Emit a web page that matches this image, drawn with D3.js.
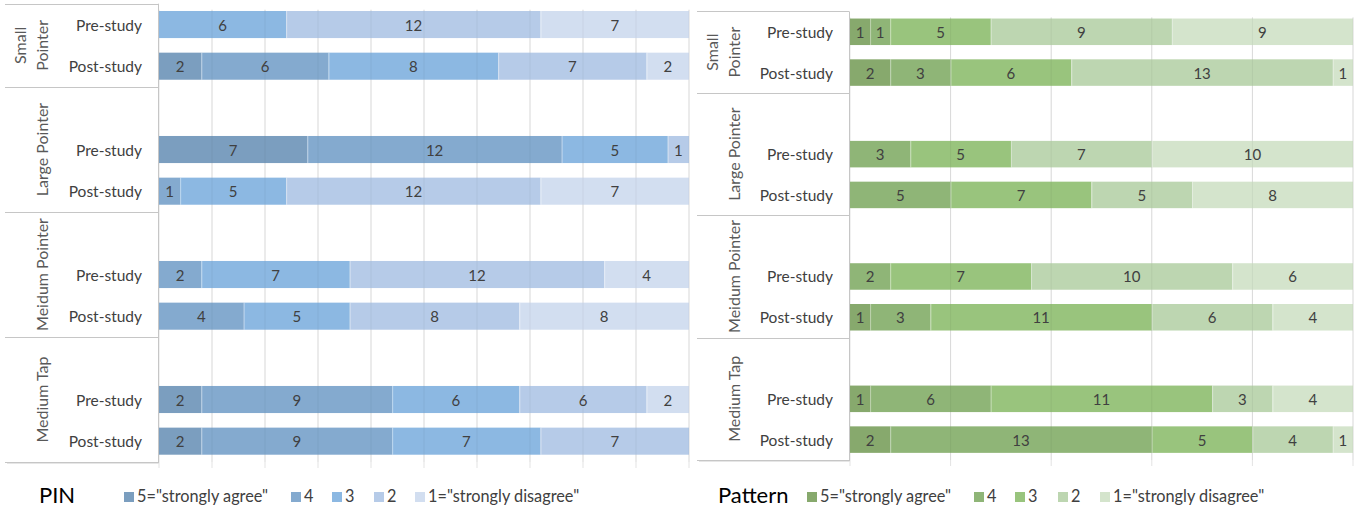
<!DOCTYPE html>
<html>
<head>
<meta charset="utf-8">
<script src="https://cdn.jsdelivr.net/npm/d3@7"></script>
<style>
  body { margin: 0; background: #fff; }
  svg { font-family: Lato, "Open Sans", sans-serif; }
</style>
</head>
<body>
<svg id="chart" width="1359" height="508"></svg>
<script>
const groups = ['Small Pointer', 'Large Pointer', 'Meidum Pointer', 'Medium Tap']
const rowLabels = ['Pre-study', 'Post-study']
const levels = ['5="strongly agree"', '4', '3', '2', '1="strongly disagree"']

// one row per bar, values for 5,4,3,2,1
const pinValues = [
    [0, 0, 6, 12, 7], [2, 6, 8, 7, 2],
    [7, 12, 5, 1, 0], [0, 1, 5, 12, 7],
    [0, 2, 7, 12, 4], [0, 4, 5, 8, 8],
    [2, 9, 6, 6, 2], [2, 9, 7, 7, 0]
]
const patternValues = [
    [1, 1, 5, 9, 9], [2, 3, 6, 13, 1],
    [0, 3, 5, 7, 10], [0, 5, 7, 5, 8],
    [0, 2, 7, 10, 6], [1, 3, 11, 6, 4],
    [1, 6, 11, 3, 4], [2, 13, 5, 4, 1]
]
const pinColors = ['#7b9ebf', '#84aacf', '#8cb8e2', '#b6cbe8', '#d2def0']
const patternColors = ['#87a96d', '#8fb577', '#99c47d', '#bdd6b1', '#d4e4cc']

const svg = d3.select('#chart')

const createChart = (cfg) => {
    // slot keys: a blank slot opens every group but the first
    const slots = []
    groups.forEach((g, gi) => {
        if (gi > 0) slots.push(`blank-${gi}`)
        rowLabels.forEach((r, ri) => slots.push(`${gi}-${ri}`))
    })
    const y = d3.scaleBand().domain(slots).range([cfg.top, cfg.bottom])
        .paddingInner(0.35).paddingOuter(0.175)
    const step = y.step()
    const x = d3.scaleLinear().domain([0, 1]).range([cfg.left, cfg.right])

    const rows = []
    cfg.values.forEach((vals, i) => {
        const total = d3.sum(vals)
        let acc = 0
        vals.forEach((v, li) => {
            if (v > 0) rows.push({ key: `${Math.floor(i / 2)}-${i % 2}`, level: li, v, x0: acc / total, x1: (acc + v) / total })
            acc += v
        })
    })

    const g = svg.append('g')

    // gridlines + ticks below plot
    const ticks = d3.range(0, 1.0001, cfg.tickStep)
    g.selectAll('line.tick').data(ticks).enter().append('line')
        .attr('x1', (d) => x(d)).attr('x2', (d) => x(d))
        .attr('y1', cfg.top + 6).attr('y2', cfg.bottom + 6)
        .attr('stroke', '#e3e3e3').attr('stroke-width', 1)

    g.selectAll('rect.bar').data(rows).enter().append('rect')
        .attr('x', (d) => x(d.x0))
        .attr('y', (d) => y(d.key))
        .attr('width', (d) => x(d.x1) - x(d.x0))
        .attr('height', y.bandwidth())
        .attr('fill', (d) => cfg.colors[d.level])

    // separators between segments
    g.selectAll('line.sep').data(rows.filter((d) => d.x0 > 0)).enter().append('line')
        .attr('x1', (d) => x(d.x0) + 0.5).attr('x2', (d) => x(d.x0) + 0.5)
        .attr('y1', (d) => y(d.key)).attr('y2', (d) => y(d.key) + y.bandwidth())
        .attr('stroke', 'rgba(255,255,255,0.35)')

    // gridlines show faintly through bars
    g.selectAll('line.over').data(ticks.slice(1)).enter().append('line')
        .attr('x1', (d) => x(d)).attr('x2', (d) => x(d))
        .attr('y1', cfg.top + 6).attr('y2', cfg.bottom)
        .attr('stroke', 'rgba(0,0,0,0.05)')

    g.selectAll('text.val').data(rows).enter().append('text')
        .attr('x', (d) => (x(d.x0) + x(d.x1)) / 2)
        .attr('y', (d) => y(d.key) + y.bandwidth() / 2)
        .attr('text-anchor', 'middle').attr('dominant-baseline', 'central')
        .attr('font-size', 15).attr('fill', '#404040')
        .text((d) => d.v)

    // category table
    const groupTop = (gi) => gi === 0 ? cfg.top : y(`blank-${gi}`) - step * 0.175
    const groupBottom = (gi) => gi === groups.length - 1 ? cfg.bottom : groupTop(gi + 1)
    const bounds = groups.map((d, gi) => groupTop(gi)).concat([cfg.bottom])
    g.selectAll('line.grp').data(bounds).enter().append('line')
        .attr('x1', cfg.tableLeft).attr('x2', cfg.left - 1)
        .attr('y1', (d) => Math.round(d) + 0.5).attr('y2', (d) => Math.round(d) + 0.5)
        .attr('stroke', '#c6c6c6')
    g.append('line')
        .attr('x1', cfg.tableLeft + 2).attr('x2', cfg.left)
        .attr('y1', Math.round(cfg.bottom) + 1.5).attr('y2', Math.round(cfg.bottom) + 1.5)
        .attr('stroke', '#e6e6e6')
    g.append('line')
        .attr('x1', cfg.left - 0.5).attr('x2', cfg.left - 0.5)
        .attr('y1', cfg.top).attr('y2', cfg.bottom + 1)
        .attr('stroke', '#c6c6c6')

    g.selectAll('text.row').data(slots.filter((s) => !s.startsWith('blank'))).enter().append('text')
        .attr('x', cfg.rowLabelX)
        .attr('y', (d) => y(d) + y.bandwidth() / 2)
        .attr('text-anchor', 'end').attr('dominant-baseline', 'central')
        .attr('font-size', 15.5).attr('fill', '#404040')
        .text((d) => rowLabels[+d.split('-')[1]])

    groups.forEach((name, gi) => {
        const cy = (groupTop(gi) + groupBottom(gi)) / 2
        const h = groupBottom(gi) - groupTop(gi)
        const words = name.split(' ')
        const t = g.append('text')
            .attr('font-size', 16).attr('fill', '#595959')
            .attr('text-anchor', 'middle').attr('dominant-baseline', 'central')
            .text(name)
        let lines = [name]
        if (t.node().getComputedTextLength() > h) lines = words
        t.text(null)
        t.attr('transform', `translate(${cfg.groupLabelX - (lines.length - 1) * 22}, ${cy}) rotate(-90)`)
        lines.forEach((l, li) => {
            t.append('tspan').attr('x', 0).attr('y', li * 22).text(l)
        })
    })

    // title and legend
    g.append('text').attr('x', cfg.titleX).attr('y', 503)
        .attr('font-size', 22).attr('fill', '#000').text(cfg.title)
    const leg = g.selectAll('g.leg').data(levels).enter().append('g')
        .attr('transform', (d, i) => `translate(${cfg.legendX[i]}, 0)`)
    leg.append('rect').attr('x', 0).attr('y', 492).attr('width', 10).attr('height', 10)
        .attr('fill', (d, i) => cfg.colors[i])
    leg.append('text').attr('x', 13).attr('y', 502)
        .attr('font-size', 16.3).attr('fill', '#404040').text((d) => d)
}

createChart({
    values: pinValues, colors: pinColors, title: 'PIN',
    left: 159, right: 689, top: 3.7, bottom: 462, tickStep: 0.1,
    tableLeft: 5, rowLabelX: 142, groupLabelX: 41, titleX: 39,
    legendX: [124, 291, 332, 374, 415]
})
createChart({
    values: patternValues, colors: patternColors, title: 'Pattern',
    left: 850, right: 1353, top: 11.4, bottom: 460, tickStep: 0.2,
    tableLeft: 697, rowLabelX: 833, groupLabelX: 733, titleX: 718,
    legendX: [807, 974, 1015, 1058, 1100]
})
</script>
</body>
</html>
